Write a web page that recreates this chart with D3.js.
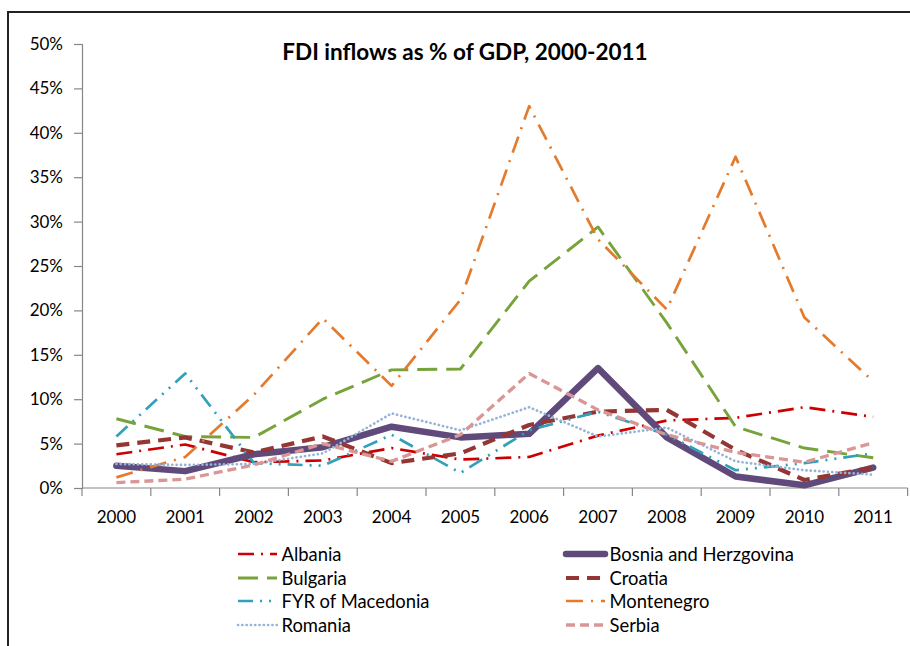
<!DOCTYPE html>
<html>
<head>
<meta charset="utf-8">
<script src="https://cdn.jsdelivr.net/npm/d3@7/dist/d3.min.js"></script>
<style>
  html, body { margin: 0; padding: 0; background: #fff; }
  svg { display: block; }
  text { font-family: Lato, "Open Sans", "Liberation Sans", sans-serif; fill: #000; }
</style>
</head>
<body>
<svg id="chart" width="910" height="646"></svg>
<script>
// FDI inflows as share of GDP (%), 2000-2011
const years = ["2000","2001","2002","2003","2004","2005","2006","2007","2008","2009","2010","2011"];
const yTicks = [0, 5, 10, 15, 20, 25, 30, 35, 40, 45, 50];

const albania     = [3.8, 4.9, 2.9, 3.1, 4.5, 3.2, 3.5, 5.9, 7.6, 7.9, 9.1, 8.0];
const bosnia      = [2.5, 1.9, 3.8, 4.6, 6.9, 5.7, 6.1, 13.5, 5.7, 1.3, 0.3, 2.3];
const bulgaria    = [7.8, 5.8, 5.7, 10.0, 13.3, 13.4, 23.3, 29.4, 18.6, 6.9, 4.5, 3.4];
const croatia     = [4.8, 5.7, 4.0, 5.8, 2.8, 3.9, 7.1, 8.6, 8.8, 4.3, 0.9, 2.3];
const macedonia   = [5.8, 12.9, 2.8, 2.5, 6.0, 1.7, 6.5, 8.6, 6.0, 2.0, 2.8, 3.9];
const montenegro  = [1.2, 3.5, 10.5, 19.1, 11.5, 21.2, 43.0, 28.0, 20.1, 37.3, 19.2, 12.0];
const romania     = [2.7, 2.6, 2.7, 3.9, 8.4, 6.5, 9.1, 5.8, 6.8, 3.0, 2.0, 1.5];
const serbia      = [0.6, 1.0, 2.6, 5.0, 3.0, 6.0, 12.9, 8.8, 6.0, 4.0, 2.9, 5.1];

const seriesNames = ["Albania", "Bosnia and Herzgovina", "Bulgaria", "Croatia",
                     "FYR of Macedonia", "Montenegro", "Romania", "Serbia"];
const seriesValues = [albania, bosnia, bulgaria, croatia, macedonia, montenegro, romania, serbia];

// stroke styles per series
const styles = [
  { color: "#CC0000", width: 2.7, dash: "16,7,2,7",          cap: "butt" },
  { color: "#604A7B", width: 6.5, dash: null,                cap: "round" },
  { color: "#77A33A", width: 2.9, dash: "20,9",              cap: "butt" },
  { color: "#943634", width: 4.2, dash: "13,8",              cap: "butt" },
  { color: "#31A0B8", width: 2.7, dash: "15,7,2,7,2,7",      cap: "butt" },
  { color: "#E47A2C", width: 2.7, dash: "17,8,2,8",          cap: "butt" },
  { color: "#95B3D7", width: 2.7, dash: "0.1,4.2",           cap: "round" },
  { color: "#D99694", width: 3.3, dash: "9,5",               cap: "butt" }
];

const svg = d3.select("#chart");

// outer chart frame
svg.append("rect")
  .attr("x", 8).attr("y", 12)
  .attr("width", 940).attr("height", 680)
  .attr("fill", "none").attr("stroke", "#222").attr("stroke-width", 2);

const x = d3.scaleBand().domain(years).range([82, 907.6]);
const y = d3.scaleLinear().domain([0, 50]).range([488, 44]);

const axisColor = "#868686";
const tickFont = 17;

// y axis
const yAxis = svg.append("g")
  .attr("transform", "translate(82,0)")
  .call(d3.axisLeft(y).tickValues(yTicks).tickSize(8).tickPadding(11)
        .tickFormat(d => d + "%"));
yAxis.select(".domain").attr("stroke", axisColor).attr("stroke-width", 1.2);
yAxis.selectAll(".tick line").attr("stroke", axisColor).attr("stroke-width", 1.2);
yAxis.selectAll(".tick text").attr("font-size", tickFont).attr("fill", "#000")
  .attr("font-family", "Lato, 'Open Sans', sans-serif");

// x axis with ticks between categories
const xAxisG = svg.append("g").attr("transform", "translate(0,488)");
xAxisG.append("line")
  .attr("x1", 82).attr("x2", 907.6).attr("y1", 0).attr("y2", 0)
  .attr("stroke", axisColor).attr("stroke-width", 1.2);
const boundaries = years.map(d => x(d)).concat([x(years[years.length - 1]) + x.bandwidth()]);
xAxisG.selectAll("line.tk").data(boundaries).enter().append("line")
  .attr("class", "tk")
  .attr("x1", d => d).attr("x2", d => d).attr("y1", 0).attr("y2", 8)
  .attr("stroke", axisColor).attr("stroke-width", 1.2);
xAxisG.selectAll("text").data(years).enter().append("text")
  .attr("x", d => x(d) + x.bandwidth() / 2)
  .attr("y", 35)
  .attr("text-anchor", "middle")
  .attr("font-size", tickFont)
  .text(d => d);

// title
svg.append("text")
  .attr("x", 465).attr("y", 60)
  .attr("text-anchor", "middle")
  .attr("font-size", 22.5).attr("font-weight", "bold")
  .text("FDI inflows as % of GDP, 2000-2011");

// series lines
const line = d3.line()
  .x((d, i) => x(years[i]) + x.bandwidth() / 2)
  .y(d => y(d));

seriesValues.forEach((vals, i) => {
  const s = styles[i];
  svg.append("path")
    .datum(vals)
    .attr("d", line)
    .attr("fill", "none")
    .attr("stroke", s.color)
    .attr("stroke-width", s.width)
    .attr("stroke-linejoin", "round")
    .attr("stroke-linecap", s.cap)
    .attr("stroke-dasharray", s.dash);
});

// legend: two columns, four rows
const legendCols = [238, 566];
const legendRows = [554, 578, 601, 625];
seriesNames.forEach((name, i) => {
  const col = i % 2, row = Math.floor(i / 2);
  const lx = legendCols[col], ly = legendRows[row];
  const s = styles[i];
  const g = svg.append("g");
  g.append("line")
    .attr("x1", lx).attr("x2", lx + 39)
    .attr("y1", ly).attr("y2", ly)
    .attr("stroke", s.color)
    .attr("stroke-width", s.width)
    .attr("stroke-linecap", s.cap)
    .attr("stroke-dasharray", s.dash);
  g.append("text")
    .attr("x", lx + 43.5).attr("y", ly + 6.5)
    .attr("font-size", 18.4)
    .text(name);
});
</script>
</body>
</html>
